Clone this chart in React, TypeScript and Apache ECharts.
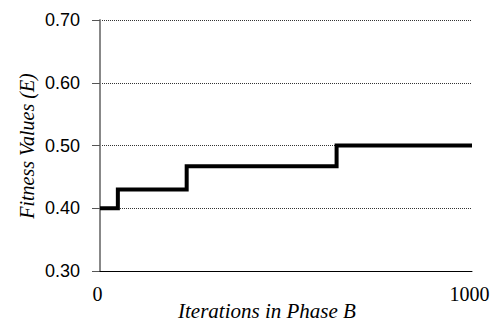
import React, { useEffect, useRef } from "react";
import * as echarts from "echarts";

const stepX = [0, 48, 233, 636, 1000];
const stepY = [0.4, 0.43, 0.467, 0.5, 0.5];
const xTicks = [0, 1000];
const yMin = 0.3;
const yMax = 0.7;
const yStep = 0.1;
const xTitle = "Iterations in Phase B";
const yTitle = "Fitness Values (E)";

export default function App() {
  const ref = useRef<HTMLDivElement>(null);
  useEffect(() => {
    document.body.style.margin = "0";
    const chart = echarts.init(ref.current!, null, { renderer: "svg" });
    const serif = "Liberation Serif";
    const sans = "Liberation Sans";
    chart.setOption({
      animation: false,
      backgroundColor: "#ffffff",
      grid: { left: 100, right: 18, top: 20, bottom: 53, outerBoundsMode: "none", containLabel: false },
      xAxis: {
        type: "value",
        min: xTicks[0],
        max: xTicks[xTicks.length - 1],
        interval: xTicks[1] - xTicks[0],
        axisLine: { show: true, lineStyle: { color: "#000", width: 1 } },
        axisTick: { show: false },
        splitLine: { show: false },
        axisLabel: {
          margin: 13,
          fontFamily: serif,
          fontSize: 20,
          color: "#000",
          padding: [0, 5, 0, 0],
          formatter: (v: number) => String(v),
        },
        z: 3,
      },
      yAxis: {
        type: "value",
        min: yMin,
        max: yMax,
        interval: yStep,
        axisLine: { show: true, lineStyle: { color: "#888", width: 2 } },
        axisTick: { show: true, length: 8, lineStyle: { color: "#555", width: 1 } },
        splitLine: {
          show: true,
          lineStyle: { color: "#333", width: 1, type: [1, 1] },
        },
        axisLabel: {
          margin: 20,
          fontFamily: sans,
          fontSize: 18,
          color: "#000",
          formatter: (v: number) => v.toFixed(2),
        },
      },
      graphic: [
        {
          type: "text",
          x: 267,
          y: 311,
          style: {
            text: xTitle,
            fontFamily: serif,
            fontStyle: "italic",
            fontSize: 21,
            fill: "#000",
            align: "center",
            verticalAlign: "middle",
          },
        },
        {
          type: "text",
          x: 27,
          y: 146,
          rotation: Math.PI / 2,
          style: {
            text: yTitle,
            fontFamily: serif,
            fontStyle: "italic",
            fontSize: 20,
            fill: "#000",
            align: "center",
            verticalAlign: "middle",
          },
        },
      ],
      series: [
        {
          type: "line",
          step: "end",
          data: stepX.map((x, i) => [x, stepY[i]]),
          showSymbol: false,
          lineStyle: { color: "#000", width: 4, join: "miter" },
          z: 5,
        },
      ],
    });
    return () => chart.dispose();
  }, []);
  return <div ref={ref} style={{ width: 490, height: 324 }} />;
}
